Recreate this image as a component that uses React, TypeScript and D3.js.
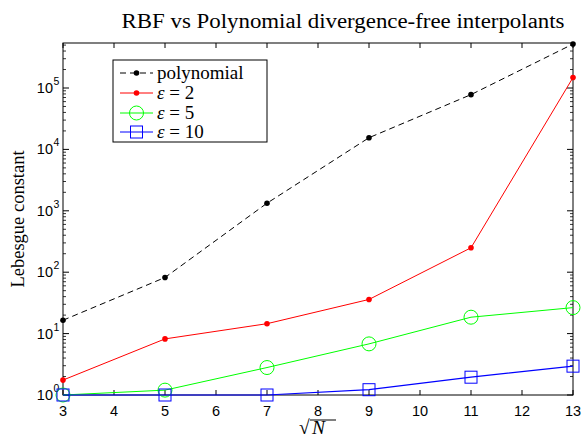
import React from "react";
import * as d3 from "d3";

const xs = [3, 5, 7, 9, 11, 13];
const polynomial = [16.5, 82, 1330, 15500, 78000, 520000];
const eps2 = [1.75, 8.2, 14.5, 36, 250, 148000];
const eps5 = [1.0, 1.2, 2.8, 6.8, 18.5, 26.5];
const eps10 = [1.0, 1.0, 1.0, 1.22, 1.95, 2.95];
const xTicks = [3, 4, 5, 6, 7, 8, 9, 10, 11, 12, 13];
const yDecades = [0, 1, 2, 3, 4, 5];

const W = 582, H = 439;
const L = 63, R = 573, T = 43, B = 395;
const YMAX = Math.pow(10, (B - T) / 61.4);

export default function App() {
  const x = d3.scaleLinear().domain([3, 13]).range([L, R]);
  const y = d3.scaleLog().domain([1, YMAX]).range([B, T]);
  const line = d3.line<number>().x((_, i) => x(xs[i])).y((d) => y(d));

  const minor: number[] = [];
  for (let k = 0; k <= 5; k++) {
    for (let m = 2; m <= 9; m++) {
      const v = m * Math.pow(10, k);
      if (v <= YMAX) minor.push(v);
    }
  }
  const serif = "'Liberation Serif', 'DejaVu Serif', serif";
  const sans = "'Liberation Sans', Arial, sans-serif";

  const clip = "plotclip";

  return (
    <svg width={W} height={H} style={{ position: "absolute", left: 0, top: 0, background: "#fff" }}>
      <defs>
        <clipPath id={clip}>
          <rect x={L - 10} y={T - 10} width={R - L + 20} height={B - T + 20} />
        </clipPath>
      </defs>
      <rect x={0} y={0} width={W} height={H} fill="#fff" />
      {/* title */}
      <text x={343} y={28} textAnchor="middle" fontFamily={serif} fontSize={20.5} textLength={443} lengthAdjust="spacingAndGlyphs" fill="#000">
        RBF vs Polynomial divergence-free interpolants
      </text>
      {/* axes frame */}
      <rect x={L} y={T} width={R - L} height={B - T} fill="none" stroke="#000" strokeWidth={1} />
      {/* x ticks */}
      {xTicks.map((t) => (
        <g key={"xt" + t}>
          <line x1={x(t)} x2={x(t)} y1={B} y2={B - 5} stroke="#000" />
          <line x1={x(t)} x2={x(t)} y1={T} y2={T + 5} stroke="#000" />
          <text x={x(t)} y={416} textAnchor="middle" fontFamily={sans} fontSize={14.5} fill="#000">{t}</text>
        </g>
      ))}
      {/* y ticks */}
      {yDecades.map((k) => {
        const yy = y(Math.pow(10, k));
        return (
          <g key={"yt" + k}>
            <line x1={L} x2={L + 6} y1={yy} y2={yy} stroke="#000" />
            <line x1={R} x2={R - 6} y1={yy} y2={yy} stroke="#000" />
            <text x={53} y={yy + 5} textAnchor="end" fontFamily={sans} fontSize={14.5} fill="#000">10</text>
            <text x={53.5} y={yy - 3} textAnchor="start" fontFamily={sans} fontSize={10.5} fill="#000">{k}</text>
          </g>
        );
      })}
      {minor.map((v, i) => (
        <g key={"mn" + i}>
          <line x1={L} x2={L + 3} y1={y(v)} y2={y(v)} stroke="#000" strokeWidth={0.8} />
          <line x1={R} x2={R - 3} y1={y(v)} y2={y(v)} stroke="#000" strokeWidth={0.8} />
        </g>
      ))}
      {/* labels */}
      <text transform={`translate(24,${(T + B) / 2}) rotate(-90)`} textAnchor="middle" fontFamily={serif} fontSize={18.5} fill="#000">
        Lebesgue constant
      </text>
      <g>
        <text x={299} y={434} fontFamily={serif} fontSize={19.5} fill="#000">√</text>
        <text x={312} y={434} fontFamily={serif} fontSize={19.5} fontStyle="italic" fill="#000">N</text>
        <line x1={310} x2={336} y1={420} y2={420} stroke="#000" strokeWidth={1} />
      </g>
      {/* series */}
      <g clipPath={`url(#${clip})`}>
        <path d={line(polynomial) || ""} fill="none" stroke="#000" strokeWidth={1} strokeDasharray="6,4" />
        {polynomial.map((v, i) => (
          <circle key={"p" + i} cx={x(xs[i])} cy={y(v)} r={2.8} fill="#000" />
        ))}
        <path d={line(eps2) || ""} fill="none" stroke="#ff0000" strokeWidth={1} />
        {eps2.map((v, i) => (
          <circle key={"r" + i} cx={x(xs[i])} cy={y(v)} r={2.8} fill="#ff0000" />
        ))}
        <path d={line(eps5) || ""} fill="none" stroke="#00ff00" strokeWidth={1} />
        {eps5.map((v, i) => (
          <circle key={"g" + i} cx={x(xs[i])} cy={y(v)} r={7} fill="none" stroke="#00ff00" strokeWidth={1} />
        ))}
        <path d={line(eps10) || ""} fill="none" stroke="#0000ff" strokeWidth={1.2} />
        {eps10.map((v, i) => (
          <rect key={"b" + i} x={x(xs[i]) - 6} y={y(v) - 6} width={12} height={12} fill="none" stroke="#0000ff" strokeWidth={1} />
        ))}
      </g>
      {/* legend */}
      <g>
        <rect x={113} y={60} width={154} height={82} fill="#fff" stroke="#000" strokeWidth={1} />
        {[
          { label: "polynomial", color: "#000", dash: "6,4", marker: "dot", y: 73 },
          { label: "2", color: "#ff0000", dash: "", marker: "dot", y: 93 },
          { label: "5", color: "#00ff00", dash: "", marker: "circle", y: 113 },
          { label: "10", color: "#0000ff", dash: "", marker: "square", y: 132 },
        ].map((e, i) => (
          <g key={"lg" + i}>
            <line x1={120} x2={153} y1={e.y} y2={e.y} stroke={e.color} strokeWidth={1} strokeDasharray={e.dash || undefined} />
            {e.marker === "dot" && <circle cx={136.5} cy={e.y} r={2.8} fill={e.color} />}
            {e.marker === "circle" && <circle cx={136.5} cy={e.y} r={7} fill="none" stroke={e.color} />}
            {e.marker === "square" && <rect x={130.5} y={e.y - 6} width={12} height={12} fill="none" stroke={e.color} />}
            {e.label === "polynomial" ? (
              <text x={157} y={e.y + 6} fontFamily={serif} fontSize={19} fill="#000">polynomial</text>
            ) : (
              <text x={157} y={e.y + 6} fontFamily={serif} fontSize={19} fill="#000">
                <tspan fontStyle="italic">ε</tspan> = {e.label}
              </text>
            )}
          </g>
        ))}
      </g>
    </svg>
  );
}
